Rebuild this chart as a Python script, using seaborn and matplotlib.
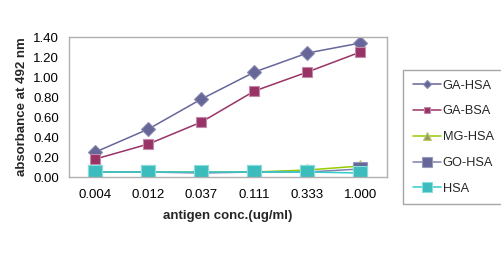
import matplotlib
matplotlib.use("Agg")
import matplotlib.pyplot as plt
import seaborn as sns
import pandas as pd

conc = ["0.004", "0.012", "0.037", "0.111", "0.333", "1.000"]
ga_hsa = [0.25, 0.48, 0.78, 1.05, 1.24, 1.34]
ga_bsa = [0.18, 0.33, 0.55, 0.86, 1.05, 1.25]
mg_hsa = [0.05, 0.05, 0.05, 0.05, 0.07, 0.11]
go_hsa = [0.05, 0.05, 0.04, 0.05, 0.05, 0.08]
hsa = [0.05, 0.05, 0.05, 0.05, 0.05, 0.04]
series_names = ["GA-HSA", "GA-BSA", "MG-HSA", "GO-HSA", "HSA"]
series_vals = [ga_hsa, ga_bsa, mg_hsa, go_hsa, hsa]
yticks = [0.0, 0.2, 0.4, 0.6, 0.8, 1.0, 1.2, 1.4]

sns.set_style("white")
plt.rcParams['font.family'] = ['Liberation Sans', 'DejaVu Sans']

styles = {
    "GA-HSA": dict(marker="D", ms=7, mfc="#666699", mec="#8888b0", line="#666699"),
    "GA-BSA": dict(marker="s", ms=7.5, mfc="#993366", mec="#c08aa8", line="#993366"),
    "MG-HSA": dict(marker="^", ms=8, mfc="#999966", mec="#b8cc66", line="#99CC00"),
    "GO-HSA": dict(marker="s", ms=10.5, mfc="#666699", mec="#9999bb", line="#8080aa"),
    "HSA": dict(marker="s", ms=10.5, mfc="#3cbcbc", mec="#88dddd", line="#33CCCC"),
}

fig = plt.figure(figsize=(5.02, 2.54), dpi=100)
ax = fig.add_axes([69/502, (254-177)/254, (387-69)/502, (177-37)/254])

for name, vals in zip(series_names, series_vals):
    st = styles[name]
    df = pd.DataFrame({"conc": conc, "val": vals})
    sns.lineplot(data=df, x="conc", y="val", ax=ax, color=st["line"], lw=1.1,
                 marker=st["marker"], markersize=st["ms"], markerfacecolor=st["mfc"],
                 markeredgecolor=st["mec"], markeredgewidth=0.8, sort=False, label=name)

ax.set_xlim(-0.5, 5.5)
ax.set_ylim(0, 1.4)
ax.set_yticks(yticks)
ax.set_yticklabels([f"{v:.2f}" for v in yticks])
ax.tick_params(axis="both", length=0, labelsize=9.5, colors="black")
ax.tick_params(axis="x", pad=9)
ax.tick_params(axis="y", pad=7)
for sp in ax.spines.values():
    sp.set_color("#b0b0b0")
    sp.set_linewidth(1.0)
ax.set_xlabel("antigen conc.(ug/ml)", fontsize=9.5, fontweight="bold", labelpad=6)
ax.set_ylabel("absorbance at 492 nm", fontsize=9.5, fontweight="bold", labelpad=4)

leg = ax.legend(loc="upper left", bbox_to_anchor=(403/502, (254-70)/254),
                bbox_transform=fig.transFigure, frameon=True, fancybox=False,
                fontsize=9.2, handlelength=2.2, labelspacing=1.08, borderpad=0.75,
                handletextpad=0.15, borderaxespad=0, markerscale=0.65)
leg.get_frame().set_edgecolor("#909090")
leg.get_frame().set_linewidth(1.0)

fig.savefig("out.png", dpi=100)
